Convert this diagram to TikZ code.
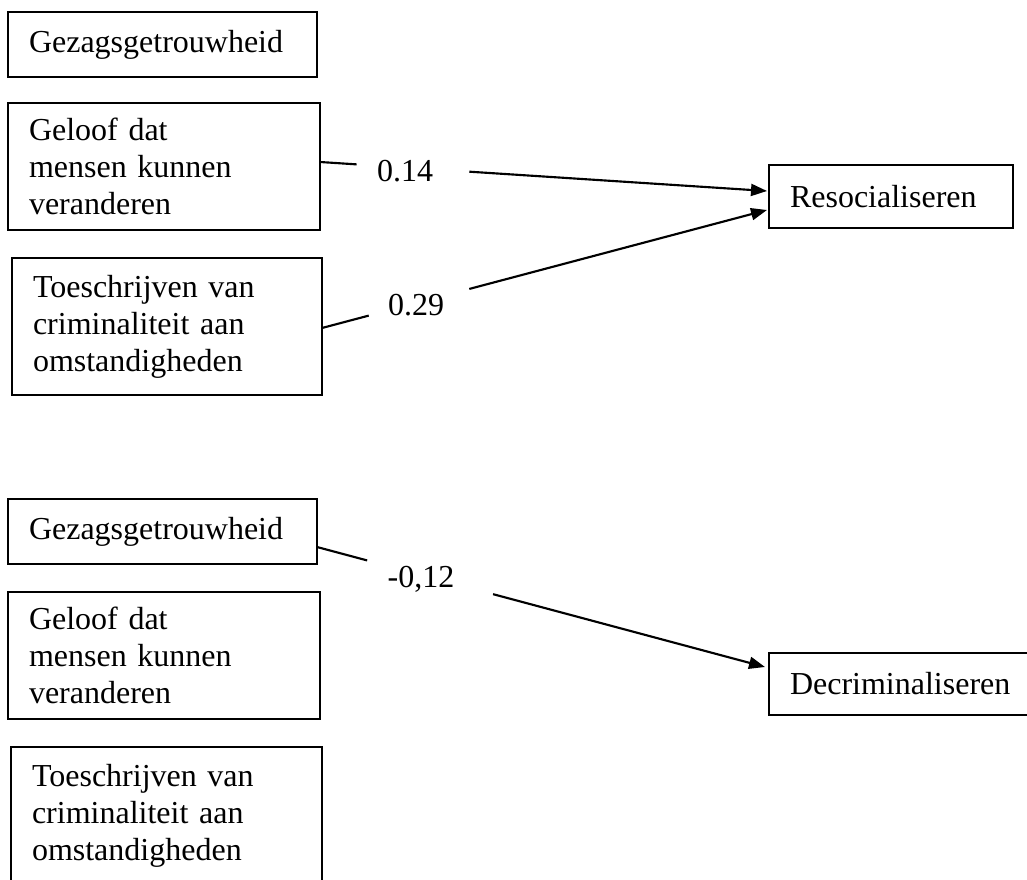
\documentclass[tikz,border=0pt]{standalone}
\usepackage{fontspec}
\setmainfont{Liberation Serif}
\usetikzlibrary{arrows.meta,calc}
\newlength{\px}
\setlength{\px}{0.75pt}

\tikzset{
	varbox/.style={draw, line width=1.2pt, anchor=north west, align=left, outer sep=0pt,
		inner xsep=21\px, inner ysep=0pt, font=\fontsize{24}{27.75}\selectfont},
	coef/.style={inner sep=0pt, font=\fontsize{24}{27.75}\selectfont},
	effect/.style={line width=1.6pt},
	tip/.style={-{Triangle[length=12pt,width=9pt]}},
}

\begin{document}
\begin{tikzpicture}[x=0.75pt,y=-0.75pt]
	\useasboundingbox (0,0) rectangle (1027,880);
	\clip (0,0) rectangle (1027,880);
	% resocialiseren
	\node[varbox, text width=267\px, minimum height=65\px] (gezagA) at (8,12) {Gezagsgetrouwheid};
	\node[varbox, text width=270\px, minimum height=127\px] (geloofA) at (8,103) {Geloof dat\\ mensen kunnen\\ veranderen};
	\node[varbox, text width=268\px, minimum height=137\px] (toeschrA) at (12,258) {Toeschrijven van\\ criminaliteit aan\\ omstandigheden};
	\node[varbox, text width=202\px, minimum height=63\px] (resoc) at (769,165) {Resocialiseren};
	\node[coef] (b1) at (405,171) {0.14};
	\node[coef] (b2) at (416,305) {0.29};
	\coordinate (s1) at ($(geloofA.east)+(0,-4.5)$);
	\coordinate (t1) at ($(resoc.west)+(-2,-5.5)$);
	\coordinate (s2) at ($(toeschrA.east)+(0,1.5)$);
	\coordinate (t2) at ($(resoc.west)+(-2,13.5)$);
	\draw[effect] (s1) -- ($(s1)!0.082!(t1)$);
	\draw[effect, tip] ($(s1)!0.334!(t1)$) -- (t1);
	\draw[effect] (s2) -- ($(s2)!0.105!(t2)$);
	\draw[effect, tip] ($(s2)!0.331!(t2)$) -- (t2);
	% decriminaliseren
	\node[varbox, text width=267\px, minimum height=65\px] (gezagB) at (8,499) {Gezagsgetrouwheid};
	\node[varbox, text width=270\px, minimum height=127\px] (geloofB) at (8,592) {Geloof dat\\ mensen kunnen\\ veranderen};
	\node[varbox, text width=269\px, minimum height=137\px] (toeschrB) at (11,747) {Toeschrijven van\\ criminaliteit aan\\ omstandigheden};
	\node[varbox, text width=228\px, minimum height=62\px] (decrim) at (769,653) {Decriminaliseren};
	\node[coef] (b3) at (421,579) {-0,12};
	\coordinate (s3) at ($(gezagB.east)+(0,15.5)$);
	\coordinate (t3) at ($(decrim.west)+(-4,-17)$);
	\draw[effect] (s3) -- ($(s3)!0.112!(t3)$);
	\draw[effect, tip] ($(s3)!0.393!(t3)$) -- (t3);
\end{tikzpicture}
\end{document}
